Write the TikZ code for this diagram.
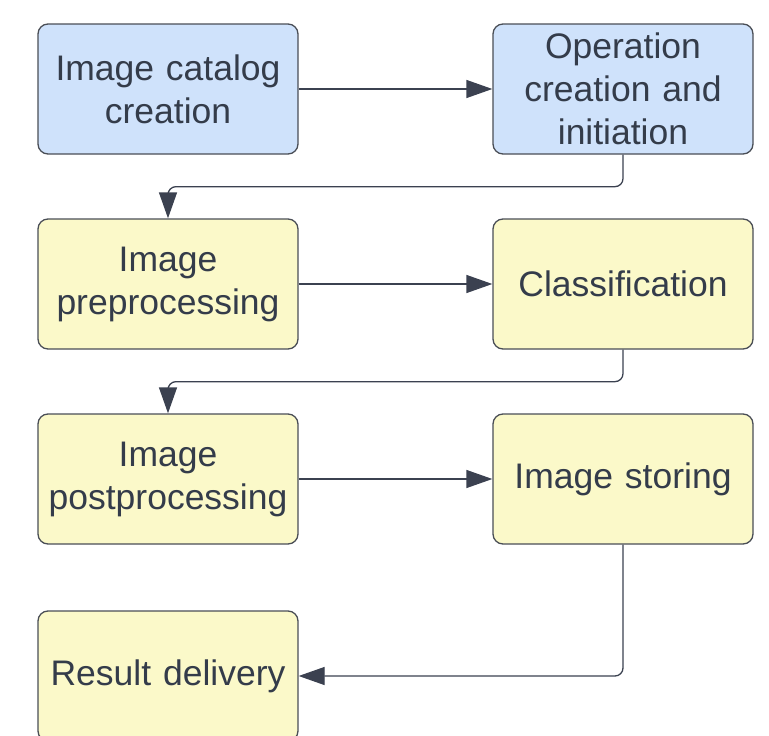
\documentclass[tikz,border=0pt]{standalone}
\usepackage{fontspec}
\setmainfont{Liberation Sans}
\usetikzlibrary{arrows.meta}
\definecolor{bluefill}{HTML}{CFE2FB}
\definecolor{yellowfill}{HTML}{FBF9C9}
\definecolor{boxline}{HTML}{4A4E56}
\definecolor{textcol}{HTML}{343C4A}
\definecolor{arrowcol}{HTML}{3B4150}
\begin{document}
\begin{tikzpicture}[x=1pt,y=1pt,
		stepbox/.style={draw=boxline,line width=1.3pt,rounded corners=10pt,
			minimum width=260pt,minimum height=130pt,align=center,
			text width=250pt,inner sep=0pt,text=textcol,
			font=\fontsize{35.5}{43}\selectfont},
		bluebox/.style={stepbox,fill=bluefill},
		yellowbox/.style={stepbox,fill=yellowfill},
		flow/.style={draw=arrowcol,line width=1.3pt,rounded corners=8pt,
			-{Triangle[length=26pt,width=18pt]}}]
			%Outer frame of the picture
			\useasboundingbox (0,0) rectangle (769,-736);
			%Row 1
			\node [bluebox] (catalog) at (168,-89) {Image catalog\\creation};
			\node [bluebox] (operation) at (623,-89) {Operation\\creation and\\initiation};
			%Row 2
			\node [yellowbox] (preproc) at (168,-284) {Image\\preprocessing};
			\node [yellowbox] (classif) at (623,-284) {Classification};
			%Row 3
			\node [yellowbox] (postproc) at (168,-479) {Image\\postprocessing};
			\node [yellowbox] (storing) at (623,-479) {Image storing};
			%Row 4
			\node [yellowbox] (delivery) at (168,-676) {Result delivery};
			%Arrows to the right
			\draw [flow] (catalog) -- (operation);
			\draw [flow] (preproc) -- (classif);
			\draw [flow] (postproc) -- (storing);
			%Arrows back to the left column
			\draw [flow] (operation.south) -- ++(0,-32) -| (preproc.north);
			\draw [flow] (classif.south) -- ++(0,-32) -| (postproc.north);
			\draw [flow] (storing.south) |- (delivery.east);
\end{tikzpicture}
\end{document}
